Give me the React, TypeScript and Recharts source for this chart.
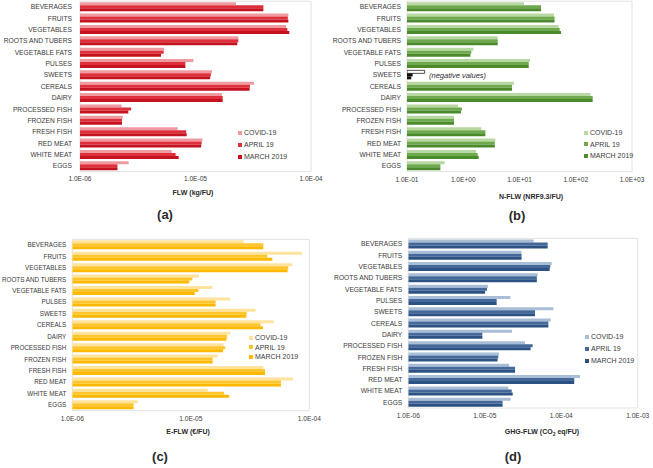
import React from 'react';
import { BarChart, Bar, XAxis, YAxis, Legend, Cell, ReferenceArea } from 'recharts';

const FONT = '"Liberation Sans", Arial, sans-serif';

const categories = ['BEVERAGES', 'FRUITS', 'VEGETABLES', 'ROOTS AND TUBERS', 'VEGETABLE FATS', 'PULSES', 'SWEETS', 'CEREALS', 'DAIRY', 'PROCESSED FISH', 'FROZEN FISH', 'FRESH FISH', 'RED MEAT', 'WHITE MEAT', 'EGGS'];
const seriesNames = ['COVID-19', 'APRIL 19', 'MARCH 2019'];

// (a) FLW (kg/FU)
const flwCovid = [2.24e-5, 6.37e-5, 6.08e-5, 2.35e-5, 5.34e-6, 9.58e-6, 1.39e-5, 3.21e-5, 1.69e-5, 2.29e-6, 2.34e-6, 7.01e-6, 1.15e-5, 6.22e-6, 2.64e-6];
const flwApril = [3.87e-5, 6.3e-5, 6.24e-5, 2.35e-5, 5.3e-6, 8.17e-6, 1.36e-5, 2.96e-5, 1.72e-5, 2.77e-6, 2.31e-6, 8.3e-6, 1.13e-5, 6.73e-6, 2.11e-6];
const flwMarch = [3.87e-5, 6.37e-5, 6.49e-5, 2.3e-5, 5.03e-6, 8.17e-6, 1.34e-5, 2.94e-5, 1.72e-5, 2.62e-6, 2.31e-6, 8.39e-6, 1.12e-5, 7.15e-6, 2.11e-6];
const flwTicks = [1e-6, 1e-5, 1e-4];

// (b) N-FLW (NRF9.3/FU) — SWEETS are negative values, drawn by magnitude
const nflwCovid = [12.0, 41.1, 49.8, 4.1, 1.51, 15.4, 0.206, 8.0, 182, 0.807, 0.685, 2.1, 3.72, 1.69, 0.468];
const nflwApril = [24.2, 42, 51.9, 4.1, 1.39, 14.6, 0.126, 7.37, 200, 0.95, 0.685, 2.47, 3.64, 1.81, 0.392];
const nflwMarch = [24.2, 42, 54.8, 4.1, 1.34, 14.6, 0.119, 7.37, 200, 0.91, 0.685, 2.47, 3.64, 1.88, 0.392];
const nflwTicks = [0.1, 1, 10, 100, 1000];
const negativeCategory = 'SWEETS';

// (c) E-FLW (€/FU)
const eflwCovid = [2.79e-5, 8.67e-5, 7.19e-5, 1.17e-5, 1.52e-5, 2.15e-5, 3.52e-5, 5.0e-5, 2.15e-5, 1.89e-5, 1.68e-5, 4.09e-5, 7.28e-5, 1.39e-5, 3.56e-6];
const eflwApril = [4.09e-5, 4.42e-5, 6.65e-5, 1.03e-5, 1.16e-5, 1.62e-5, 2.96e-5, 3.88e-5, 2.02e-5, 1.95e-5, 1.53e-5, 4.23e-5, 5.77e-5, 1.91e-5, 3.29e-6];
const eflwMarch = [4.09e-5, 4.87e-5, 6.56e-5, 9.7e-6, 1.08e-5, 1.62e-5, 2.94e-5, 4.06e-5, 2.0e-5, 1.87e-5, 1.53e-5, 4.23e-5, 5.77e-5, 2.11e-5, 3.29e-6];
const eflwTicks = [1e-6, 1e-5, 1e-4];

// (d) GHG-FLW (CO2 eq/FU)
const ghgCovid = [4.36e-5, 3.01e-5, 7.5e-5, 4.92e-5, 1.1e-5, 2.16e-5, 7.89e-5, 7.28e-5, 2.27e-5, 3.36e-5, 1.54e-5, 2.08e-5, 1.76e-4, 2.03e-5, 2.18e-5];
const ghgApril = [6.65e-5, 3.03e-5, 7.2e-5, 4.8e-5, 1.07e-5, 1.43e-5, 4.54e-5, 6.79e-5, 9.29e-6, 4.23e-5, 1.5e-5, 2.49e-5, 1.48e-4, 2.25e-5, 1.71e-5];
const ghgMarch = [6.65e-5, 3.03e-5, 7.06e-5, 4.8e-5, 1.01e-5, 1.43e-5, 4.54e-5, 6.79e-5, 9.29e-6, 3.98e-5, 1.47e-5, 2.49e-5, 1.48e-4, 2.32e-5, 1.71e-5];
const ghgTicks = [1e-6, 1e-5, 1e-4, 1e-3];

const build = (c: number[], a: number[], m: number[]) =>
  categories.map((name, i) => ({ name, covid: c[i], april: a[i], march: m[i] }));

const fmtExp = (v: number) => {
  const [mant, exp] = v.toExponential(1).split('e');
  const sign = exp[0];
  const digits = exp.slice(1).padStart(2, '0');
  return `${mant}E${sign}${digits}`;
};

const makeCatTick = (fontSize: number) => (props: any) => {
  const { x, y, payload } = props;
  return (
    <text x={x} y={y} dy="0.36em" textAnchor="end" fontSize={fontSize} fill="#3a3a3a" fontFamily={FONT}>
      {payload.value}
    </text>
  );
};

const makeLegend = (lineH: number) => (props: any) => {
  const items = [...(props.payload || [])].sort(
    (a: any, b: any) => seriesNames.indexOf(a.value) - seriesNames.indexOf(b.value)
  );
  return (
    <div style={{ fontFamily: FONT, fontSize: 7, color: '#3a3a3a' }}>
      {items.map((p: any) => (
        <div key={p.value} style={{ height: lineH, lineHeight: `${lineH}px`, display: 'flex', alignItems: 'center', whiteSpace: 'nowrap' }}>
          <span style={{ display: 'inline-block', width: 4, height: 4, background: p.color, marginRight: 2 }} />
          {p.value}
        </div>
      ))}
    </div>
  );
};

type PanelProps = {
  left: number; top: number; width: number; height: number;
  yWidth: number; margin: { top: number; right: number; bottom: number; left: number };
  data: any[]; ticks: number[]; colors: string[];
  legend: { left: number; top: number; lineH: number };
  yTickSize: number; xTickSize: number; catFont: number; negative?: boolean;
};

const Panel = (p: PanelProps) => {
  const domain = [p.ticks[0], p.ticks[p.ticks.length - 1]];
  const isNeg = (name: string) => p.negative && name === negativeCategory;
  const CatTick = makeCatTick(p.catFont);
  return (
    <div style={{ position: 'absolute', left: p.left, top: p.top, width: p.width, height: p.height }}>
      <BarChart
        width={p.width}
        height={p.height}
        data={p.data}
        layout="vertical"
        margin={p.margin}
        barCategoryGap={1}
        barGap={0}
      >
        <ReferenceArea x1={domain[0]} x2={domain[1]} fill="none" stroke="#e2e2e2" strokeWidth={1} ifOverflow="extendDomain" />
        <XAxis
          type="number"
          scale="log"
          domain={domain}
          ticks={p.ticks}
          allowDataOverflow
          tickFormatter={fmtExp}
          tick={{ fontSize: 6.6, fill: '#3a3a3a', fontFamily: FONT }}
          tickLine={false}
          tickSize={p.xTickSize}
          axisLine={false}
          height={14}
          interval={0}
        />
        <YAxis
          type="category"
          dataKey="name"
          width={p.yWidth}
          tick={<CatTick />}
          tickLine={false}
          tickSize={p.yTickSize}
          axisLine={false}
          interval={0}
        />
        <Legend
          layout="vertical"
          align="center"
          verticalAlign="middle"
          itemSorter={null as any}
          wrapperStyle={{ left: p.legend.left, top: p.legend.top, width: 70 }}
          content={makeLegend(p.legend.lineH)}
        />
        <Bar dataKey="covid" name={seriesNames[0]} fill={p.colors[0]} isAnimationActive={false}>
          {p.data.map((d: any, i: number) => (
            <Cell key={i} fill={isNeg(d.name) ? '#ffffff' : p.colors[0]} stroke={isNeg(d.name) ? '#222' : 'none'} strokeWidth={isNeg(d.name) ? 0.8 : 0} />
          ))}
        </Bar>
        <Bar dataKey="april" name={seriesNames[1]} fill={p.colors[1]} isAnimationActive={false}>
          {p.data.map((d: any, i: number) => (
            <Cell key={i} fill={isNeg(d.name) ? '#111' : p.colors[1]} />
          ))}
        </Bar>
        <Bar dataKey="march" name={seriesNames[2]} fill={p.colors[2]} isAnimationActive={false}>
          {p.data.map((d: any, i: number) => (
            <Cell key={i} fill={isNeg(d.name) ? '#111' : p.colors[2]} />
          ))}
        </Bar>
      </BarChart>
    </div>
  );
};

const TextAt = ({ cx, cy, children, size, bold, italic, align }: any) => (
  <div
    style={{
      position: 'absolute',
      left: align === 'left' ? cx : cx - 100,
      width: align === 'left' ? 'auto' : 200,
      top: cy - 8,
      height: 16,
      lineHeight: '16px',
      textAlign: align === 'left' ? 'left' : 'center',
      fontFamily: FONT,
      fontSize: size,
      fontWeight: bold ? 700 : 400,
      fontStyle: italic ? 'italic' : 'normal',
      color: '#2a2a2a',
      whiteSpace: 'nowrap',
    }}
  >
    {children}
  </div>
);

export default function App() {
  return (
    <div style={{ position: 'absolute', left: 0, top: 0, width: 653, height: 468, background: '#ffffff', overflow: 'hidden' }}>
      <Panel
        left={0} top={0} width={325} height={190}
        yWidth={80} margin={{ top: 1.2, right: 14, bottom: 4.4, left: 0 }}
        data={build(flwCovid, flwApril, flwMarch)} ticks={flwTicks}
        colors={['#ef9aa1', '#df2f3a', '#c5121f']}
        legend={{ left: 238, top: 127, lineH: 12 }}
        yTickSize={6} xTickSize={3} catFont={6.7}
      />
      <Panel
        left={325} top={0} width={328} height={190}
        yWidth={82} margin={{ top: 1.2, right: 21, bottom: 4.4, left: 0 }}
        data={build(nflwCovid, nflwApril, nflwMarch)} ticks={nflwTicks}
        colors={['#b7d8a0', '#6fa94d', '#4b8a2b']}
        legend={{ left: 259, top: 127, lineH: 11.5 }}
        yTickSize={4} xTickSize={4} catFont={6.7} negative
      />
      <Panel
        left={0} top={230} width={325} height={200}
        yWidth={72.3} margin={{ top: 9.3, right: 15.7, bottom: 5.3, left: 0 }}
        data={build(eflwCovid, eflwApril, eflwMarch)} ticks={eflwTicks}
        colors={['#ffe39c', '#ffc62c', '#ffb800']}
        legend={{ left: 249, top: 103, lineH: 9.5 }}
        yTickSize={4} xTickSize={4} catFont={6.3}
      />
      <Panel
        left={325} top={230} width={328} height={200}
        yWidth={83.3} margin={{ top: 8.4, right: 15.3, bottom: 8, left: 0 }}
        data={build(ghgCovid, ghgApril, ghgMarch)} ticks={ghgTicks}
        colors={['#a8bed6', '#44689a', '#2c5283']}
        legend={{ left: 260, top: 101, lineH: 12 }}
        yTickSize={4} xTickSize={3} catFont={6.7}
      />

      <TextAt cx={429} cy={76} size={7.5} italic align="left">(negative values)</TextAt>

      <TextAt cx={193} cy={193} size={7} bold>FLW (kg/FU)</TextAt>
      <TextAt cx={531} cy={197} size={7} bold>N-FLW (NRF9.3/FU)</TextAt>
      <TextAt cx={188} cy={432} size={7} bold>E-FLW (€/FU)</TextAt>
      <TextAt cx={542} cy={432} size={7} bold>
        GHG-FLW (CO<sub style={{ fontSize: 5, verticalAlign: 'sub', lineHeight: 0 }}>2</sub> eq/FU)
      </TextAt>

      <TextAt cx={165} cy={215} size={13} bold>(a)</TextAt>
      <TextAt cx={517} cy={216} size={13} bold>(b)</TextAt>
      <TextAt cx={160} cy={457} size={13} bold>(c)</TextAt>
      <TextAt cx={513} cy={457} size={13} bold>(d)</TextAt>
    </div>
  );
}
